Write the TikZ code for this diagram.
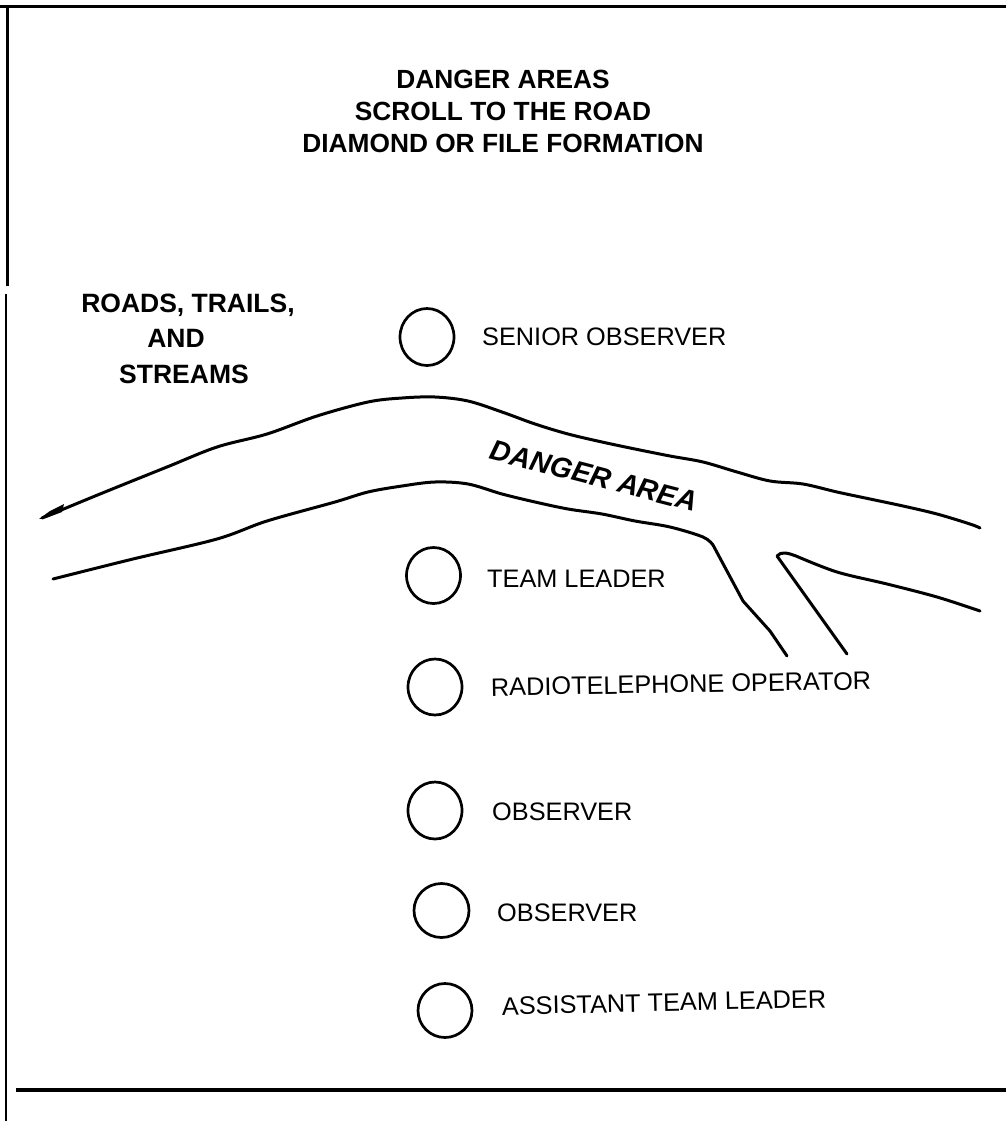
\documentclass[tikz,border=0pt]{standalone}
\usepackage{fontspec}
\setmainfont{Liberation Sans}
\usetikzlibrary{shapes.geometric}
\begin{document}
\begin{tikzpicture}[x=1pt,y=-1pt,
  person/.style={draw, ellipse, line width=2.7pt, inner sep=0pt, minimum width=54pt, minimum height=56pt},
  role/.style={anchor=base west, inner sep=0pt, font=\fontsize{25.3}{30}\selectfont},
  titleline/.style={anchor=base, inner sep=0pt, font=\fontsize{26.3}{31}\selectfont\bfseries},
  roadlabel/.style={anchor=base, inner sep=0pt, font=\fontsize{26.5}{35}\selectfont\bfseries},
  road/.style={line width=3pt, line cap=round, line join=round},
  frame/.style={line width=3pt}]
\useasboundingbox (0,0) rectangle (1006,1121);

% frame
\draw[frame] (0,7) -- (1006,7);
\draw[frame] (7,5.5) -- (7,286);
\draw[line width=2pt] (5.5,294) -- (5.5,1121);
\draw[line width=4.5pt] (16,1090) -- (1006,1090);

% title
\node[titleline] (t1) at (503,89) {DANGER AREAS};
\node[titleline] (t2) at (503,121) {SCROLL TO THE ROAD};
\node[titleline] (t3) at (503,153) {DIAMOND OR FILE FORMATION};

% roads label
\node[roadlabel] (r1) at (188,312) {ROADS, TRAILS,};
\node[roadlabel] (r2) at (176,347) {AND};
\node[roadlabel] (r3) at (184,383) {STREAMS};

% road edges
\draw[road] plot[smooth, tension=0.55] coordinates {
 (42,518) (100,494) (167,467) (217,447) (267,434) (317,416) (368,402) (402,398)
 (435,397) (468,401) (502,412) (535,424) (568,434) (602,442) (635,449) (670,456)
 (703,462) (737,472) (770,481) (803,484) (837,492) (870,499) (903,506) (937,514)
 (970,524) (980,528)};
\fill (39,519) -- (50,511) -- (64,504) -- (62,512) -- (46,518) -- cycle;
\draw[road] plot[smooth, tension=0.55] coordinates {
 (53,579) (133,559) (217,539) (267,521) (335,502) (368,492) (402,486) (435,482)
 (468,484) (502,494) (535,502) (568,509) (602,514) (635,521) (670,527) (703,537)
 (713,545)};
\draw[road] (713,545) -- (743,601) -- (770,631) -- (787,656);
\draw[road] (847,654) -- (777,556) .. controls (781,551) and (788,553) .. (796,556)
  plot[smooth, tension=0.55] coordinates {(796,556) (837,572) (887,584) (937,597) (980,611)};

\node[inner sep=0pt, rotate=-14.5, font=\fontsize{28.5}{32}\selectfont\bfseries\itshape] (da) at (594,476) {DANGER AREA};

% team members
\node[person, minimum width=54pt, minimum height=57pt] (so) at (427,337) {};
\node[role] (sol) at (482,345) {SENIOR OBSERVER};
\node[person] (tl) at (433.5,575.5) {};
\node[role] (tll) at (487,587) {TEAM LEADER};
\node[person] (rto) at (435,687) {};
\node[role, rotate=1] (rtol) at (491,696) {RADIOTELEPHONE OPERATOR};
\node[person, minimum height=57pt] (ob1) at (435,810.5) {};
\node[role] (ob1l) at (492,820) {OBSERVER};
\node[person, minimum width=55pt, minimum height=54pt] (ob2) at (441.5,910.5) {};
\node[role] (ob2l) at (497,921) {OBSERVER};
\node[person, minimum height=54pt] (atl) at (445,1010.5) {};
\node[role, rotate=1.3] (atll) at (502,1015) {ASSISTANT TEAM LEADER};
\end{tikzpicture}
\end{document}
